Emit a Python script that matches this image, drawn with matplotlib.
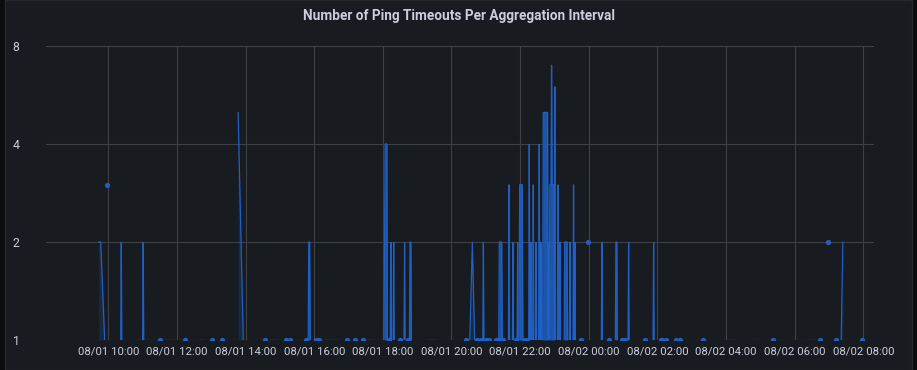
import numpy as np
import matplotlib
matplotlib.use('Agg')
import matplotlib.pyplot as plt
from matplotlib.patches import Rectangle

# times are minutes after 08/01 00:00, values are timeouts per interval

# isolated readings (drawn as points)
dot_t = [598, 691, 734, 781, 798, 874.5, 910, 918, 945, 963.5, 969, 1017.5, 1032, 1045,
         1090, 1110, 1124, 1226, 1244.5, 1251, 1260, 1265.7, 1278.4, 1281.4, 1290.6,
         1313.3, 1326.5, 1332.5, 1425.6, 1438.5, 1475.8, 1499, 1503.7, 1538, 1566, 1568,
         1574.3, 1592.3, 1600, 1639, 1761.4, 1843.5, 1859, 1873, 1917]
dot_v = [3, 1, 1, 1, 1, 1, 1, 1, 1, 1, 1, 1, 1, 1,
         1, 1, 1, 1, 1, 1, 1, 1, 1, 1, 1,
         1, 1, 1, 1, 2, 1, 1, 1, 1, 1, 1,
         1, 1, 1, 1, 1, 1, 2, 1, 1]

# short stretches at 1
run_start = [654, 669, 680, 699, 725, 758.5, 805, 838.6, 859, 867, 883, 933, 979, 1051,
             1072.6, 1078.5, 1159, 1174, 1646, 1683.8, 1727, 1774, 1820.8]
run_end = [655.5, 670.5, 681.5, 716, 726.5, 765.5, 806.5, 840, 860.5, 868.5, 895, 934.5, 999, 1062,
           1074, 1080, 1170, 1175.5, 1647.5, 1694.3, 1728.5, 1775.5, 1835.3]

# one-interval spikes (back to 1 on both sides)
spike_t = [622.7, 661, 1094, 1099, 1118, 1255.8, 1300.6, 1307.5, 1315.7, 1336, 1339, 1343,
           1348, 1353.4, 1356.4, 1370, 1380.7, 1386, 1389.5, 1407, 1413.4, 1415.7,
           1463, 1509.7, 1553.4]
spike_v = [2, 2, 2, 2, 2, 2, 3, 2, 2, 4, 2, 3,
           2, 4, 2, 2, 6, 3, 2, 2, 3, 2,
           2, 2, 2]

# plateaus
plat_start = [950.5, 1127.5, 1283.6, 1319.2, 1360.4, 1398, 1487.5]
plat_end = [952, 1129, 1287.8, 1323.8, 1368, 1402, 1489]
plat_v = [2, 2, 2, 3, 5, 2, 2]

# odd shapes
drop_0945_t = [583.3, 586.7, 593.7]
drop_0945_v = [2, 2, 1]
drop_1347_t = [827, 836]
drop_1347_v = [5, 1]
burst_1805_t = [1082, 1083, 1084, 1087, 1088]
burst_1805_v = [1, 2, 4, 4, 1]
tri_2036_t = [1232, 1236.5, 1240.5]
tri_2036_v = [1, 2, 1]
peak_2255_t = [1371, 1372, 1374, 1375, 1376, 1379, 1380]
peak_2255_v = [1, 3, 3, 7, 3, 3, 1]
rise_0721_t = [1881.3, 1884.3]
rise_0721_v = [1, 2]

y_ticks = [1, 2, 4, 8]
x_ticks = list(range(600, 1921, 120))

pieces = []  # (points, solid fill?)
for t, v in zip(dot_t, dot_v):
    pieces.append(([(t, v)], False))
for a, b in zip(run_start, run_end):
    pieces.append(([(a, 1), (b, 1)], False))
for t, v in zip(spike_t, spike_v):
    pieces.append(([(t - 1, 1), (t, v), (t + 1, 1)], False))
for a, b, v in zip(plat_start, plat_end, plat_v):
    pieces.append(([(a - 1, 1), (a, v), (b, v), (b + 1, 1)], True))
for tt, vv, solid in [(drop_0945_t, drop_0945_v, False), (drop_1347_t, drop_1347_v, False),
                      (burst_1805_t, burst_1805_v, True), (tri_2036_t, tri_2036_v, False),
                      (peak_2255_t, peak_2255_v, True), (rise_0721_t, rise_0721_v, False)]:
    pieces.append((list(zip(tt, vv)), solid))

blue = '#1f60c4'
text_c = '#ccccdc'
plt.rcParams['font.family'] = ['Roboto', 'DejaVu Sans']

fig = plt.figure(figsize=(9.17, 3.70), dpi=100)
fig.patch.set_facecolor('#0b0c0e')
fig.patches.append(Rectangle((5 / 917, 0), 907 / 917, 1, transform=fig.transFigure,
                             facecolor='#181b1f', edgecolor='#25282d', lw=1, zorder=-1))

ax = fig.add_axes([46 / 917, 30 / 370, 828 / 917, 294 / 370])
ax.set_facecolor('#181b1f')

for p, solid in pieces:
    t = [q[0] for q in p]
    v = [q[1] for q in p]
    if len(p) == 1:
        ax.plot(t, v, 'o', color=blue, ms=3.8, mew=0, zorder=3)
    else:
        ax.fill_between(t, 1, v, color=blue, alpha=0.85 if solid else 0.2, lw=0, zorder=2)
        ax.plot(t, v, color=blue, lw=0.9, zorder=3, solid_joinstyle='miter')

ax.set_yscale('log', base=2)
ax.set_ylim(1, 8)
ax.set_yticks(y_ticks)
ax.set_yticklabels([str(y) for y in y_ticks])
ax.minorticks_off()
ax.set_xlim(491.1, 1938.7)
ax.set_xticks(x_ticks)
ax.set_xticklabels(['08/%02d %02d:00' % (1 + m // 1440, (m % 1440) // 60) for m in x_ticks])

ax.grid(True, color='#3d4045', lw=0.8)
ax.set_axisbelow(True)
for s in ax.spines.values():
    s.set_visible(False)
ax.tick_params(axis='both', length=0, colors=text_c, labelsize=8.2)
ax.tick_params(axis='y', labelsize=8.8, pad=19)
ax.tick_params(axis='x', pad=5)

fig.text(0.501, 0.958, 'Number of Ping Timeouts Per Aggregation Interval',
         ha='center', va='center', color=text_c, fontsize=9.8, fontweight='semibold')

plt.savefig('out.png', dpi=100, facecolor=fig.get_facecolor())
